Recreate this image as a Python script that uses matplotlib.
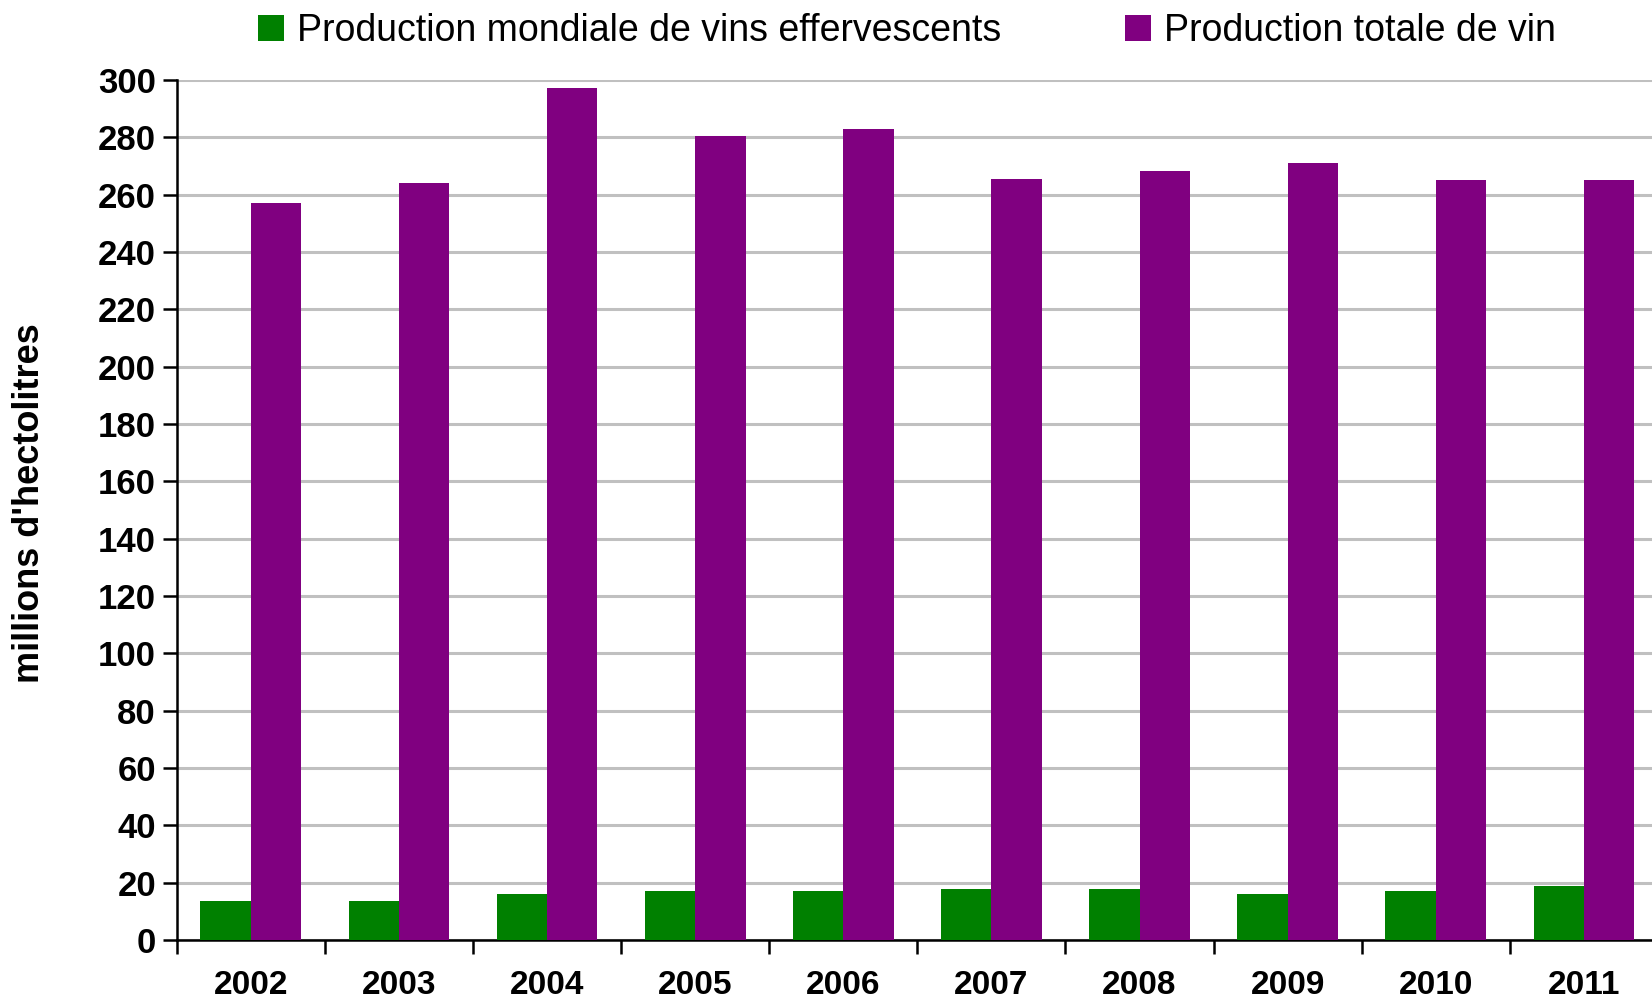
import numpy as np
import matplotlib.pyplot as plt
from matplotlib.ticker import MultipleLocator, FixedLocator

years = ['2002', '2003', '2004', '2005', '2006', '2007', '2008', '2009', '2010', '2011']
effervescents = [13.6, 13.6, 15.9, 17.0, 17.0, 17.7, 17.7, 15.9, 17.0, 18.8]
total = [257.0, 264.0, 297.4, 280.4, 282.8, 265.6, 268.2, 271.0, 265.1, 265.1]

labels = ['Production mondiale de vins effervescents', 'Production totale de vin']

plt.rcParams['font.family'] = ['Liberation Sans', 'DejaVu Sans']

fig = plt.figure(figsize=(16.52, 10.02), dpi=100)
ax = fig.add_axes([0.107, 0.062, 0.893, 0.858])

x = np.arange(len(years))
w = 0.34
ax.bar(x - w / 2, effervescents, w, color='#008000', label=labels[0], zorder=3)
ax.bar(x + w / 2, total, w, color='#800080', label=labels[1], zorder=3)

ax.set_ylim(0, 300)
ax.set_xlim(-0.5, 9.46)
ax.yaxis.set_major_locator(MultipleLocator(20))
ax.grid(axis='y', color='#c0c0c0', linewidth=2.2, zorder=0)

ax.set_xticks(x)
ax.set_xticklabels(years)
ax.xaxis.set_minor_locator(FixedLocator(np.arange(-0.5, 10.5, 1)))
ax.tick_params(axis='x', which='major', length=0, pad=22, labelsize=24)
ax.tick_params(axis='x', which='minor', length=10, width=1.8, direction='out')
ax.tick_params(axis='y', length=10, width=1.8, labelsize=25, pad=5)
for lab in ax.get_xticklabels() + ax.get_yticklabels():
    lab.set_fontweight('bold')

for s in ['top', 'right']:
    ax.spines[s].set_visible(False)
for s in ['left', 'bottom']:
    ax.spines[s].set_linewidth(1.8)

ax.set_ylabel("millions d'hectolitres", fontsize=26, fontweight='bold')
ax.yaxis.set_label_coords(-0.088, 0.508)

fig.legend(loc='center left', bbox_to_anchor=(0.156, 0.969), ncol=2, frameon=False,
           fontsize=27, handlelength=0.7, handleheight=0.7, handletextpad=0.35,
           columnspacing=3.3, borderpad=0, borderaxespad=0)

fig.savefig('out.png', dpi=100)
